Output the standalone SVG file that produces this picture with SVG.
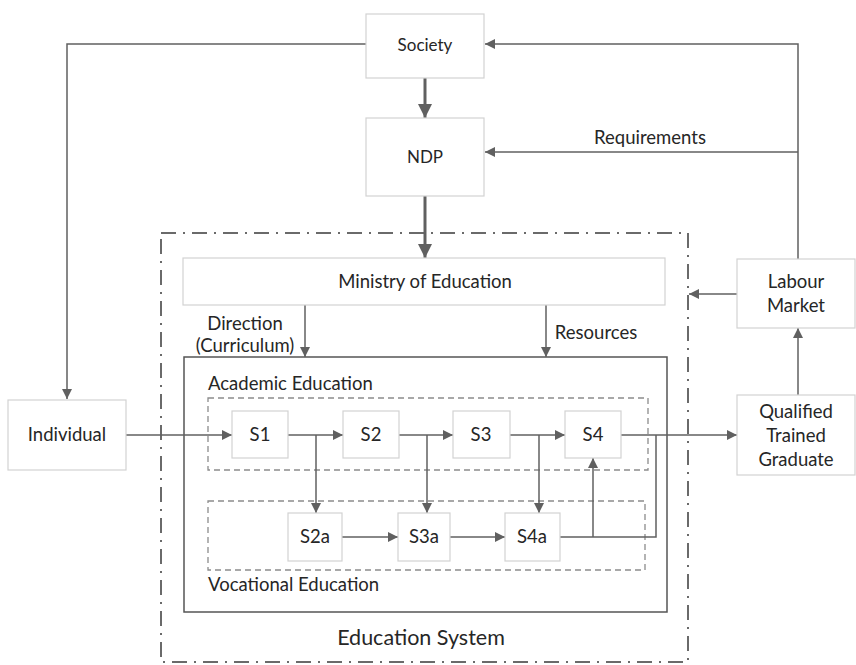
<svg xmlns="http://www.w3.org/2000/svg" width="856" height="665" viewBox="0 0 856 665">
<defs>
<marker id="ah" viewBox="0 0 10 10" refX="10" refY="5" markerWidth="10" markerHeight="10" markerUnits="userSpaceOnUse" orient="auto"><path d="M0,0 L10,5 L0,10 z" fill="#606060"/></marker>
<marker id="ahb" viewBox="0 0 10 10" refX="10" refY="5" markerWidth="14" markerHeight="14" markerUnits="userSpaceOnUse" orient="auto"><path d="M0,0 L10,5 L0,10 z" fill="#606060"/></marker>
</defs>
<style>
.box{fill:#fff;stroke:#d2d2d2;stroke-width:1.2}
.t{font-family:Lato,"Open Sans","Liberation Sans",sans-serif;font-size:18.5px;fill:#262626;text-anchor:middle}
.tl{font-family:Lato,"Open Sans","Liberation Sans",sans-serif;font-size:18.5px;fill:#262626}
.ts{font-size:17px}
.c{fill:none;stroke:#606060;stroke-width:1.5}
.cb{fill:none;stroke:#606060;stroke-width:3}
.dash{fill:none;stroke:#8c8c8c;stroke-width:1.3;stroke-dasharray:6 4}
</style>
<rect width="856" height="665" fill="#fff"/>
<g id="system">
<rect x="161" y="233" width="527" height="429" fill="none" stroke="#6a6a6a" stroke-width="2" stroke-dasharray="15 7 2 7"/>
<text class="t" x="421" y="645" style="font-size:21.5px">Education System</text>
<rect x="184" y="357" width="483" height="255" fill="none" stroke="#555" stroke-width="1.5"/>
</g>
<g id="academic">
<rect class="dash" x="208" y="398" width="440" height="72"/>
<text class="tl" x="208" y="390">Academic Education</text>
</g>
<g id="vocational">
<rect class="dash" x="208" y="501" width="437" height="69"/>
<text class="tl" x="208" y="591">Vocational Education</text>
</g>
<g id="connectors">
<path class="c" d="M366,44 H67 V399" marker-end="url(#ah)"/>
<path class="c" d="M798,259 V44 H485" marker-end="url(#ah)"/>
<path class="c" d="M798,152 H485" marker-end="url(#ah)"/>
<path class="cb" d="M425,78 V118" marker-end="url(#ahb)"/>
<path class="cb" d="M425,196 V258" marker-end="url(#ahb)"/>
<path class="c" d="M305,305 V357" marker-end="url(#ah)"/>
<path class="c" d="M546,305 V357" marker-end="url(#ah)"/>
<path class="c" d="M126,435 H232" marker-end="url(#ah)"/>
<path class="c" d="M288,435 H343" marker-end="url(#ah)"/>
<path class="c" d="M399,435 H453" marker-end="url(#ah)"/>
<path class="c" d="M510,435 H565" marker-end="url(#ah)"/>
<path class="c" d="M621,435 H737" marker-end="url(#ah)"/>
<path class="c" d="M316,435 V513" marker-end="url(#ah)"/>
<path class="c" d="M427,435 V513" marker-end="url(#ah)"/>
<path class="c" d="M539,435 V513" marker-end="url(#ah)"/>
<path class="c" d="M342,537 H398" marker-end="url(#ah)"/>
<path class="c" d="M450,537 H505" marker-end="url(#ah)"/>
<path class="c" d="M560,537 H656 V435"/>
<path class="c" d="M593,537 V458" marker-end="url(#ah)"/>
<path class="c" d="M798,395 V328" marker-end="url(#ah)"/>
<path class="c" d="M737,294 H689" marker-end="url(#ah)"/>
<text class="t" x="650" y="144">Requirements</text>
<text class="t" x="245" y="330">Direction</text>
<text class="t" x="245" y="352">(Curriculum)</text>
<text class="t" x="596" y="339">Resources</text>
</g>
<g id="society"><rect class="box" x="366" y="14" width="118" height="64"/><text class="t ts" x="425" y="51">Society</text></g>
<g id="ndp"><rect class="box" x="366" y="118" width="118" height="78"/><text class="t ts" x="425" y="163">NDP</text></g>
<g id="ministry"><rect class="box" x="183" y="258" width="482" height="47"/><text class="t" x="425" y="288">Ministry of Education</text></g>
<g id="individual"><rect class="box" x="8" y="400" width="118" height="70"/><text class="t" x="67" y="441">Individual</text></g>
<g id="s1"><rect class="box" x="232" y="411" width="56" height="47"/><text class="t" x="260" y="441">S1</text></g>
<g id="s2"><rect class="box" x="343" y="411" width="56" height="47"/><text class="t" x="371" y="441">S2</text></g>
<g id="s3"><rect class="box" x="453" y="411" width="57" height="47"/><text class="t" x="481" y="441">S3</text></g>
<g id="s4"><rect class="box" x="565" y="411" width="56" height="47"/><text class="t" x="593" y="441">S4</text></g>
<g id="s2a"><rect class="box" x="288" y="513" width="54" height="48"/><text class="t" x="315" y="543">S2a</text></g>
<g id="s3a"><rect class="box" x="398" y="513" width="52" height="48"/><text class="t" x="424" y="543">S3a</text></g>
<g id="s4a"><rect class="box" x="505" y="513" width="55" height="48"/><text class="t" x="532" y="543">S4a</text></g>
<g id="labour"><rect class="box" x="737" y="259" width="118" height="69"/><text class="t" x="796" y="288">Labour</text><text class="t" x="796" y="312">Market</text></g>
<g id="graduate"><rect class="box" x="737" y="395" width="118" height="80"/><text class="t" x="796" y="418">Qualified</text><text class="t" x="796" y="442">Trained</text><text class="t" x="796" y="466">Graduate</text></g>
</svg>
